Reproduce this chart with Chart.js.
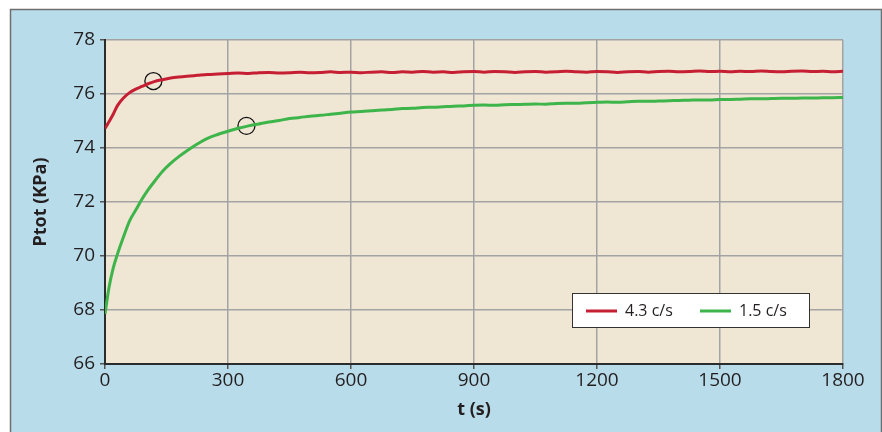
<!DOCTYPE html>
<html>
<head>
<meta charset="utf-8">
<script src="https://cdn.jsdelivr.net/npm/chart.js@4.4.1/dist/chart.umd.min.js"></script>
<style>
  body { margin: 0; background: #ffffff; }
  #chartBox { width: 882px; height: 432px; }
</style>
</head>
<body>
<div id="chartBox"><canvas id="pressureChart" width="882" height="432"></canvas></div>
<script>
// time (s) shared by both series
const times = [0, 10, 20, 30, 45, 60, 75, 90, 105, 120, 140, 160, 180, 200, 225, 250, 275, 300,
  325, 350, 375, 400, 425, 450, 475, 500, 525, 550, 575, 600, 625, 650, 675, 700, 725, 750,
  775, 800, 825, 850, 875, 900, 925, 950, 975, 1000, 1025, 1050, 1075, 1100, 1125, 1150, 1175, 1200,
  1225, 1250, 1275, 1300, 1325, 1350, 1375, 1400, 1425, 1450, 1475, 1500, 1525, 1550, 1575, 1600,
  1625, 1650, 1675, 1700, 1725, 1750, 1775, 1800];

// Ptot (KPa) at 4.3 c/s
const fastP = [74.72, 74.98, 75.25, 75.56, 75.85, 76.05, 76.18, 76.28, 76.38, 76.46, 76.53, 76.59, 76.63, 76.66, 76.69, 76.72, 76.74, 76.76,
  76.78, 76.76, 76.79, 76.80, 76.78, 76.79, 76.81, 76.79, 76.80, 76.82, 76.80, 76.81, 76.79, 76.81, 76.82, 76.80, 76.82, 76.81,
  76.83, 76.81, 76.82, 76.80, 76.82, 76.83, 76.81, 76.83, 76.82, 76.80, 76.82, 76.83, 76.81, 76.82, 76.84, 76.82, 76.81, 76.83,
  76.82, 76.80, 76.82, 76.83, 76.81, 76.83, 76.84, 76.82, 76.83, 76.85, 76.83, 76.84, 76.82, 76.84, 76.83, 76.85,
  76.83, 76.82, 76.84, 76.85, 76.83, 76.84, 76.82, 76.84];

// Ptot (KPa) at 1.5 c/s
const slowP = [67.85, 68.85, 69.55, 70.05, 70.7, 71.3, 71.7, 72.1, 72.45, 72.75, 73.13, 73.43, 73.68, 73.9, 74.15, 74.36, 74.5, 74.62,
  74.73, 74.82, 74.89, 74.96, 75.02, 75.09, 75.13, 75.18, 75.21, 75.25, 75.29, 75.33, 75.35, 75.38, 75.41, 75.43, 75.46, 75.47,
  75.50, 75.51, 75.53, 75.55, 75.56, 75.58, 75.59, 75.58, 75.60, 75.61, 75.62, 75.63, 75.62, 75.65, 75.66, 75.66, 75.68, 75.69,
  75.70, 75.69, 75.71, 75.73, 75.73, 75.74, 75.75, 75.76, 75.77, 75.78, 75.78, 75.80, 75.80, 75.81, 75.82, 75.82,
  75.83, 75.84, 75.84, 75.85, 75.85, 75.86, 75.86, 75.87];

// circled points
const markT = [118, 345];
const markP = [76.48, 74.82];

const seriesLabels = ['4.3 c/s', '1.5 c/s'];
const seriesColors = ['#c61f34', '#3db54a'];

const fontFamily = '"Open Sans", "Noto Sans", sans-serif';

function toPoints(xs, ys) {
  return xs.map((x, i) => ({ x: x, y: ys[i] }));
}

// blue frame behind everything + beige plot area
const backdrop = {
  id: 'backdrop',
  beforeDraw(chart) {
    const ctx = chart.ctx;
    const a = chart.chartArea;
    ctx.save();
    ctx.fillStyle = '#b9dcea';
    ctx.fillRect(10.5, 9.5, 871, 430);
    ctx.strokeStyle = '#6f6f6f';
    ctx.lineWidth = 1.5;
    ctx.strokeRect(10.5, 9.5, 871, 430);
    ctx.fillStyle = '#efe6d4';
    ctx.fillRect(a.left, a.top, a.right - a.left, a.bottom - a.top);
    ctx.restore();
  }
};

// boxed legend inside the plot
const boxLegend = {
  id: 'boxLegend',
  afterDraw(chart) {
    const ctx = chart.ctx;
    ctx.save();
    ctx.fillStyle = '#ffffff';
    ctx.fillRect(572, 293, 237, 34);
    ctx.strokeStyle = '#333333';
    ctx.lineWidth = 1;
    ctx.strokeRect(572.5, 293.5, 237, 34);
    ctx.font = '16px ' + fontFamily;
    ctx.textBaseline = 'middle';
    const starts = [586, 700];
    chart.data.datasets.slice(0, 2).forEach((ds, i) => {
      const x = starts[i];
      ctx.strokeStyle = ds.borderColor;
      ctx.lineWidth = 3;
      ctx.beginPath();
      ctx.moveTo(x, 311);
      ctx.lineTo(x + 31, 311);
      ctx.stroke();
      ctx.fillStyle = '#231f20';
      ctx.fillText(ds.label, x + 39, 311);
    });
    ctx.restore();
  }
};

new Chart(document.getElementById('pressureChart'), {
  type: 'line',
  data: {
    datasets: [
      {
        label: seriesLabels[0],
        data: toPoints(times, fastP),
        borderColor: seriesColors[0],
        borderWidth: 3,
        pointRadius: 0,
        cubicInterpolationMode: 'monotone'
      },
      {
        label: seriesLabels[1],
        data: toPoints(times, slowP),
        borderColor: seriesColors[1],
        borderWidth: 3,
        pointRadius: 0,
        cubicInterpolationMode: 'monotone'
      },
      {
        label: 'marks',
        type: 'scatter',
        data: toPoints(markT, markP),
        pointRadius: 8.5,
        pointBorderColor: '#111111',
        pointBorderWidth: 1.3,
        pointBackgroundColor: 'rgba(0,0,0,0)',
        showLine: false
      }
    ]
  },
  options: {
    responsive: false,
    animation: false,
    devicePixelRatio: 1,
    layout: { padding: { top: 40, right: 39, left: 0, bottom: 0 } },
    plugins: {
      legend: { display: false },
      tooltip: { enabled: false }
    },
    scales: {
      x: {
        type: 'linear',
        min: 0,
        max: 1800,
        afterFit: (scale) => { scale.height = 68; },
        ticks: {
          stepSize: 300, color: '#231f20', font: { family: fontFamily, size: 19 }, padding: 0, maxRotation: 0,
          callback: (v) => String(v)
        },
        grid: { color: '#a3a3a3', lineWidth: 1.5, tickLength: 5, tickColor: '#555555', tickWidth: 1.5 },
        border: { color: '#2b2b2b', width: 2 },
        title: { display: true, text: 't (s)', color: '#231f20', font: { family: fontFamily, size: 18, weight: 'bold' }, padding: { top: 0, bottom: 11 } }
      },
      y: {
        min: 66,
        max: 78,
        afterFit: (scale) => { scale.width = 105; },
        ticks: { stepSize: 2, color: '#231f20', font: { family: fontFamily, size: 19 }, padding: 5 },
        grid: { color: '#a3a3a3', lineWidth: 1.5, tickLength: 5, tickColor: '#555555', tickWidth: 1.5 },
        border: { color: '#2b2b2b', width: 2 },
        title: { display: true, text: 'Ptot (KPa)', color: '#231f20', font: { family: fontFamily, size: 18, weight: 'bold' }, padding: { top: 30, bottom: 0 } }
      }
    }
  },
  plugins: [backdrop, boxLegend]
});
</script>
</body>
</html>
